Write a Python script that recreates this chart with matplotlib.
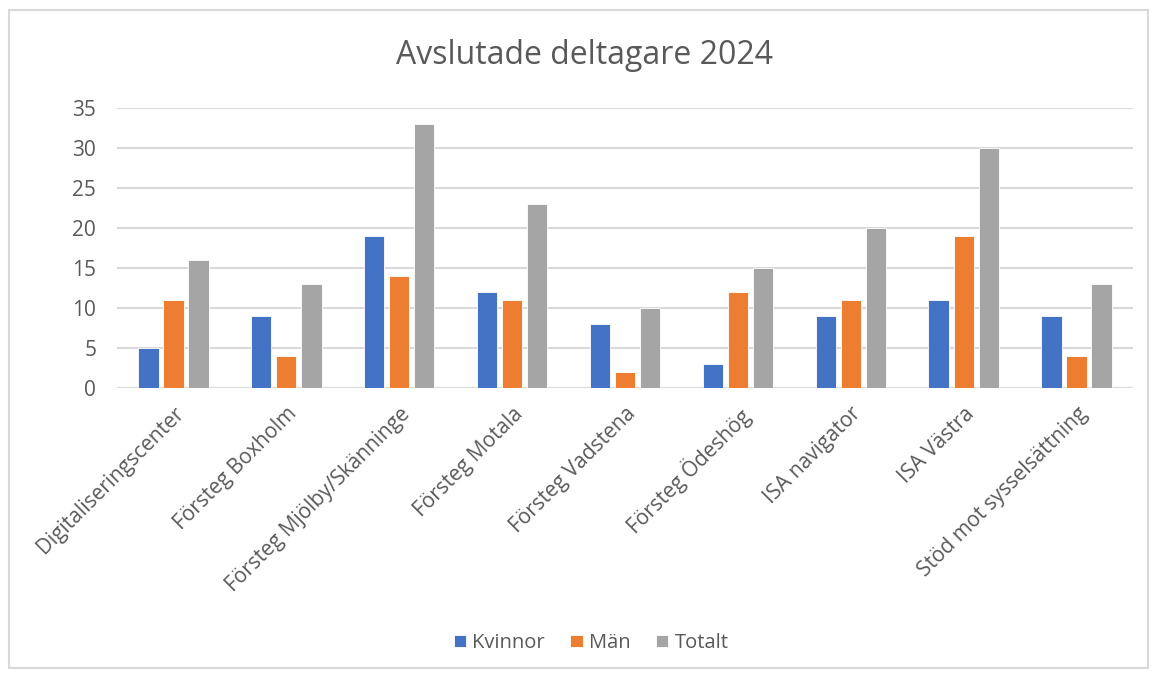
import numpy as np
import matplotlib
matplotlib.use("Agg")
import matplotlib.pyplot as plt
from matplotlib.patches import Rectangle

plt.rcParams['font.family'] = ['Open Sans', 'DejaVu Sans']

kategorier = ['Digitaliseringscenter', 'Försteg Boxholm', 'Försteg Mjölby/Skänninge',
              'Försteg Motala', 'Försteg Vadstena', 'Försteg Ödeshög',
              'ISA navigator', 'ISA Västra', 'Stöd mot sysselsättning']
kvinnor = [5, 9, 19, 12, 8, 3, 9, 11, 9]
man = [11, 4, 14, 11, 2, 12, 11, 19, 4]
totalt = [16, 13, 33, 23, 10, 15, 20, 30, 13]
serier = ['Kvinnor', 'Män', 'Totalt']
farger = ['#4472C4', '#ED7D31', '#A5A5A5']

fig = plt.figure(figsize=(11.53, 6.77), dpi=100)
# ram runt diagrammet
fig.patches.append(Rectangle((9 / 1153, 1 - 668 / 677), 1139 / 1153, 658 / 677,
                             transform=fig.transFigure, fill=False,
                             edgecolor='#D9D9D9', linewidth=1.5))

ax = fig.add_axes([117 / 1153, 1 - 388 / 677, (1133 - 117) / 1153, (388 - 108) / 677])

x = np.arange(len(kategorier))
bredd = 0.18
steg = 0.222
for i, (namn, data) in enumerate(zip(serier, [kvinnor, man, totalt])):
    ax.bar(x + (i - 1) * steg, data, width=bredd, color=farger[i],
           edgecolor='white', linewidth=0.6, label=namn, zorder=3)

ax.set_xlim(-0.5, len(kategorier) - 0.5)
ax.set_ylim(0, 35)
ax.set_yticks(range(0, 36, 5))
ax.grid(axis='y', color='#D9D9D9', linewidth=1.5, zorder=0)
for s in ax.spines.values():
    s.set_visible(False)
ax.axhline(0, color='#D9D9D9', linewidth=1.5, zorder=2)
ax.tick_params(axis='both', length=0, colors='#595959', labelsize=15)
ax.tick_params(axis='y', pad=15)
ax.set_xticks(x)
ax.set_xticklabels(kategorier, rotation=45, ha='right', rotation_mode='anchor')
ax.tick_params(axis='x', pad=11)

fig.text(585 / 1153, 1 - 55 / 677, 'Avslutade deltagare 2024', ha='center', va='center',
         fontsize=23, color='#595959')

fig.legend(loc='center', bbox_to_anchor=(591 / 1153, 1 - 643 / 677), ncol=3,
           frameon=False, fontsize=14.5, labelcolor='#595959',
           handlelength=0.6, handleheight=0.6, handletextpad=0.3, columnspacing=1.3)

fig.savefig('out.png', dpi=100)
